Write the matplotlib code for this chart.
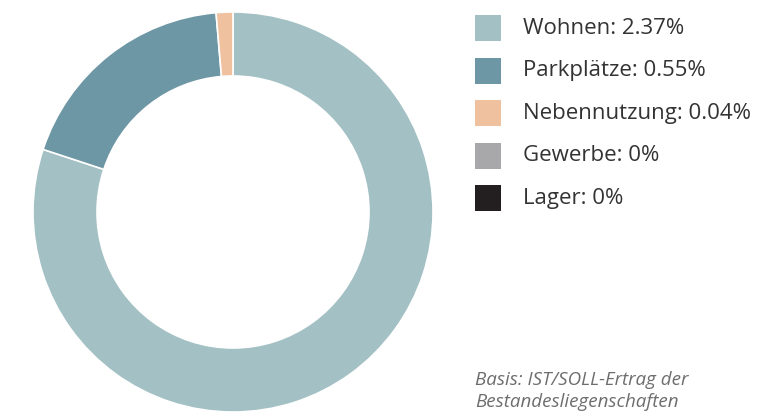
import matplotlib.pyplot as plt
from matplotlib.patches import Rectangle

# Daten
kategorien = ['Wohnen', 'Parkplätze', 'Nebennutzung', 'Gewerbe', 'Lager']
werte = [2.37, 0.55, 0.04, 0, 0]
etiketten = ['2.37%', '0.55%', '0.04%', '0%', '0%']
farben = ['#a3c0c4', '#6e97a5', '#efc19e', '#a8a8ab', '#231f20']
fussnote = 'Basis: IST/SOLL-Ertrag der\nBestandesliegenschaften'

plt.rcParams['font.family'] = ['Open Sans', 'DejaVu Sans']

W, H = 774, 417
fig = plt.figure(figsize=(W / 100, H / 100), dpi=100)

# Donut-Achse: Mittelpunkt (233, 212), Radius 200 px
ax = fig.add_axes([33 / W, (H - 412) / H, 400 / W, 400 / H])
idx = [i for i, v in enumerate(werte) if v > 0]
ax.pie([werte[i] for i in idx], colors=[farben[i] for i in idx],
       startangle=90, counterclock=False, radius=1,
       wedgeprops=dict(width=0.32, edgecolor='white', linewidth=1.2))
ax.set_xlim(-1, 1)
ax.set_ylim(-1, 1)
ax.set_aspect('equal')
ax.axis('off')

# Legende
for i, (k, e, f) in enumerate(zip(kategorien, etiketten, farben)):
    yc = 28 + i * 42.5
    fig.patches.append(Rectangle((475 / W, (H - yc - 13) / H), 26 / W, 26 / H,
                                 transform=fig.transFigure, facecolor=f, edgecolor='none'))
    fig.text(523 / W, (H - yc) / H, f'{k}: {e}', fontsize=16, color='#333333',
             va='center', ha='left')

# Fussnote
fig.text(475 / W, (H - 391) / H, fussnote, fontsize=13.5, style='italic',
         color='#6d6d6d', va='center', ha='left', linespacing=1.3)

fig.savefig('out.png', dpi=100)
